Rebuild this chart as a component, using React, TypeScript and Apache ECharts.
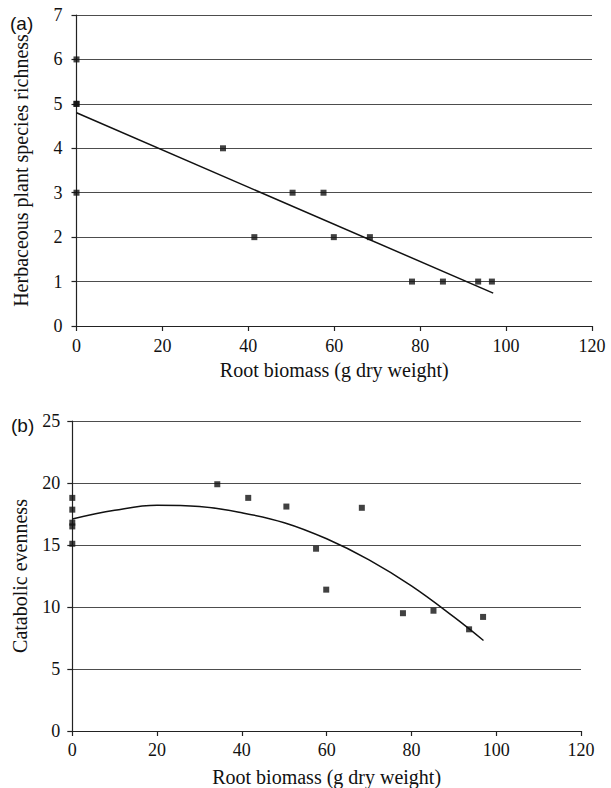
import React, { useEffect, useRef } from "react";
import * as echarts from "echarts";

// Panel (a): herbaceous plant species richness vs root biomass
const richnessX = [0, 0, 0, 0, 34.1, 41.4, 50.3, 57.5, 59.9, 68.3, 78.1, 85.3, 93.5, 96.7];
const richnessY = [6, 5, 5, 3, 4, 2, 3, 3, 2, 2, 1, 1, 1, 1];
const richnessFitX = [0, 97];
const richnessFitY = [4.8, 0.74];

// Panel (b): catabolic evenness vs root biomass
const evennessX = [0, 0, 0, 0, 0, 34.2, 41.5, 50.5, 57.5, 59.9, 68.3, 78.0, 85.2, 93.6, 96.9];
const evennessY = [18.8, 17.85, 16.8, 16.5, 15.1, 19.9, 18.8, 18.1, 14.7, 11.4, 18.0, 9.5, 9.7, 8.2, 9.2];
const evennessFitX = [0, 10, 20, 30, 40, 50, 60, 70, 80, 90, 97];
const evennessFitY = [17.1, 17.8, 18.2, 18.1, 17.6, 16.8, 15.5, 13.8, 11.7, 9.2, 7.3];

const xTitle = "Root biomass (g dry weight)";
const yTitleA = "Herbaceous plant species richness";
const yTitleB = "Catabolic evenness";
const panelLabels = ["(a)", "(b)"];

const SERIF = "'Liberation Serif', 'Times New Roman', serif";
const SANS = "'Liberation Sans', Arial, sans-serif";

const zip = (xs: number[], ys: number[]) => xs.map((x, i) => [x, ys[i]]);

export default function App() {
  const ref = useRef<HTMLDivElement>(null);
  useEffect(() => {
    if (!ref.current) return;
    const chart = echarts.init(ref.current, null, { renderer: "svg" });
    const axisLine = { show: true, lineStyle: { color: "#222", width: 1.2 } };
    const axisTick = { show: true, length: 5, lineStyle: { color: "#222", width: 1.2 } };
    const label = { color: "#111", fontFamily: SERIF, fontSize: 18 };
    const split = { show: true, lineStyle: { color: "#4d4d4d", width: 1.2 } };
    const titleStyle = { color: "#111", fontFamily: SERIF, fontSize: 20 };
    const xAxis = (gi: number) => ({
      type: "value",
      gridIndex: gi,
      min: 0,
      max: 120,
      interval: 20,
      axisLine,
      axisTick,
      axisLabel: { ...label, margin: gi === 0 ? 11 : 10 },
      splitLine: { show: false },
      name: xTitle,
      nameLocation: "middle",
      nameGap: gi === 0 ? 34 : 36,
      nameTextStyle: titleStyle,
    });
    chart.setOption({
      animation: false,
      grid: [
        { left: 76.5, right: 19, top: 15, height: 311 },
        { left: 72.3, right: 30, top: 421, height: 310 },
      ],
      xAxis: [xAxis(0), xAxis(1)],
      yAxis: [
        {
          type: "value",
          gridIndex: 0,
          min: 0,
          max: 7,
          interval: 1,
          axisLine,
          axisTick,
          axisLabel: { ...label, margin: 14 },
          splitLine: split,
          name: yTitleA,
          nameLocation: "middle",
          nameGap: 46,
          nameTextStyle: titleStyle,
        },
        {
          type: "value",
          gridIndex: 1,
          min: 0,
          max: 25,
          interval: 5,
          axisLine,
          axisTick,
          axisLabel: { ...label, margin: 12 },
          splitLine: split,
          name: yTitleB,
          nameLocation: "middle",
          nameGap: 42,
          nameTextStyle: titleStyle,
        },
      ],
      graphic: [
        { type: "text", x: 10, y: 23, style: { text: panelLabels[0], font: `19px ${SANS}`, fill: "#111", verticalAlign: "middle" } },
        { type: "text", x: 11, y: 425, style: { text: panelLabels[1], font: `19px ${SANS}`, fill: "#111", verticalAlign: "middle" } },
      ],
      series: [
        {
          type: "line",
          xAxisIndex: 0,
          yAxisIndex: 0,
          data: zip(richnessFitX, richnessFitY),
          showSymbol: false,
          lineStyle: { color: "#111", width: 1.5 },
          z: 2,
        },
        {
          type: "scatter",
          xAxisIndex: 0,
          yAxisIndex: 0,
          data: zip(richnessX, richnessY),
          symbol: "rect",
          symbolSize: 6,
          itemStyle: { color: "#111" },
          z: 3,
        },
        {
          type: "line",
          xAxisIndex: 1,
          yAxisIndex: 1,
          data: zip(evennessFitX, evennessFitY),
          showSymbol: false,
          smooth: 0.4,
          lineStyle: { color: "#111", width: 1.5 },
          z: 2,
        },
        {
          type: "scatter",
          xAxisIndex: 1,
          yAxisIndex: 1,
          data: zip(evennessX, evennessY),
          symbol: "rect",
          symbolSize: 6,
          itemStyle: { color: "#111" },
          z: 3,
        },
      ],
    });
    return () => chart.dispose();
  }, []);
  return (
    <div
      ref={ref}
      style={{ position: "absolute", left: 0, top: 0, width: 611, height: 788, background: "#fff" }}
    />
  );
}
